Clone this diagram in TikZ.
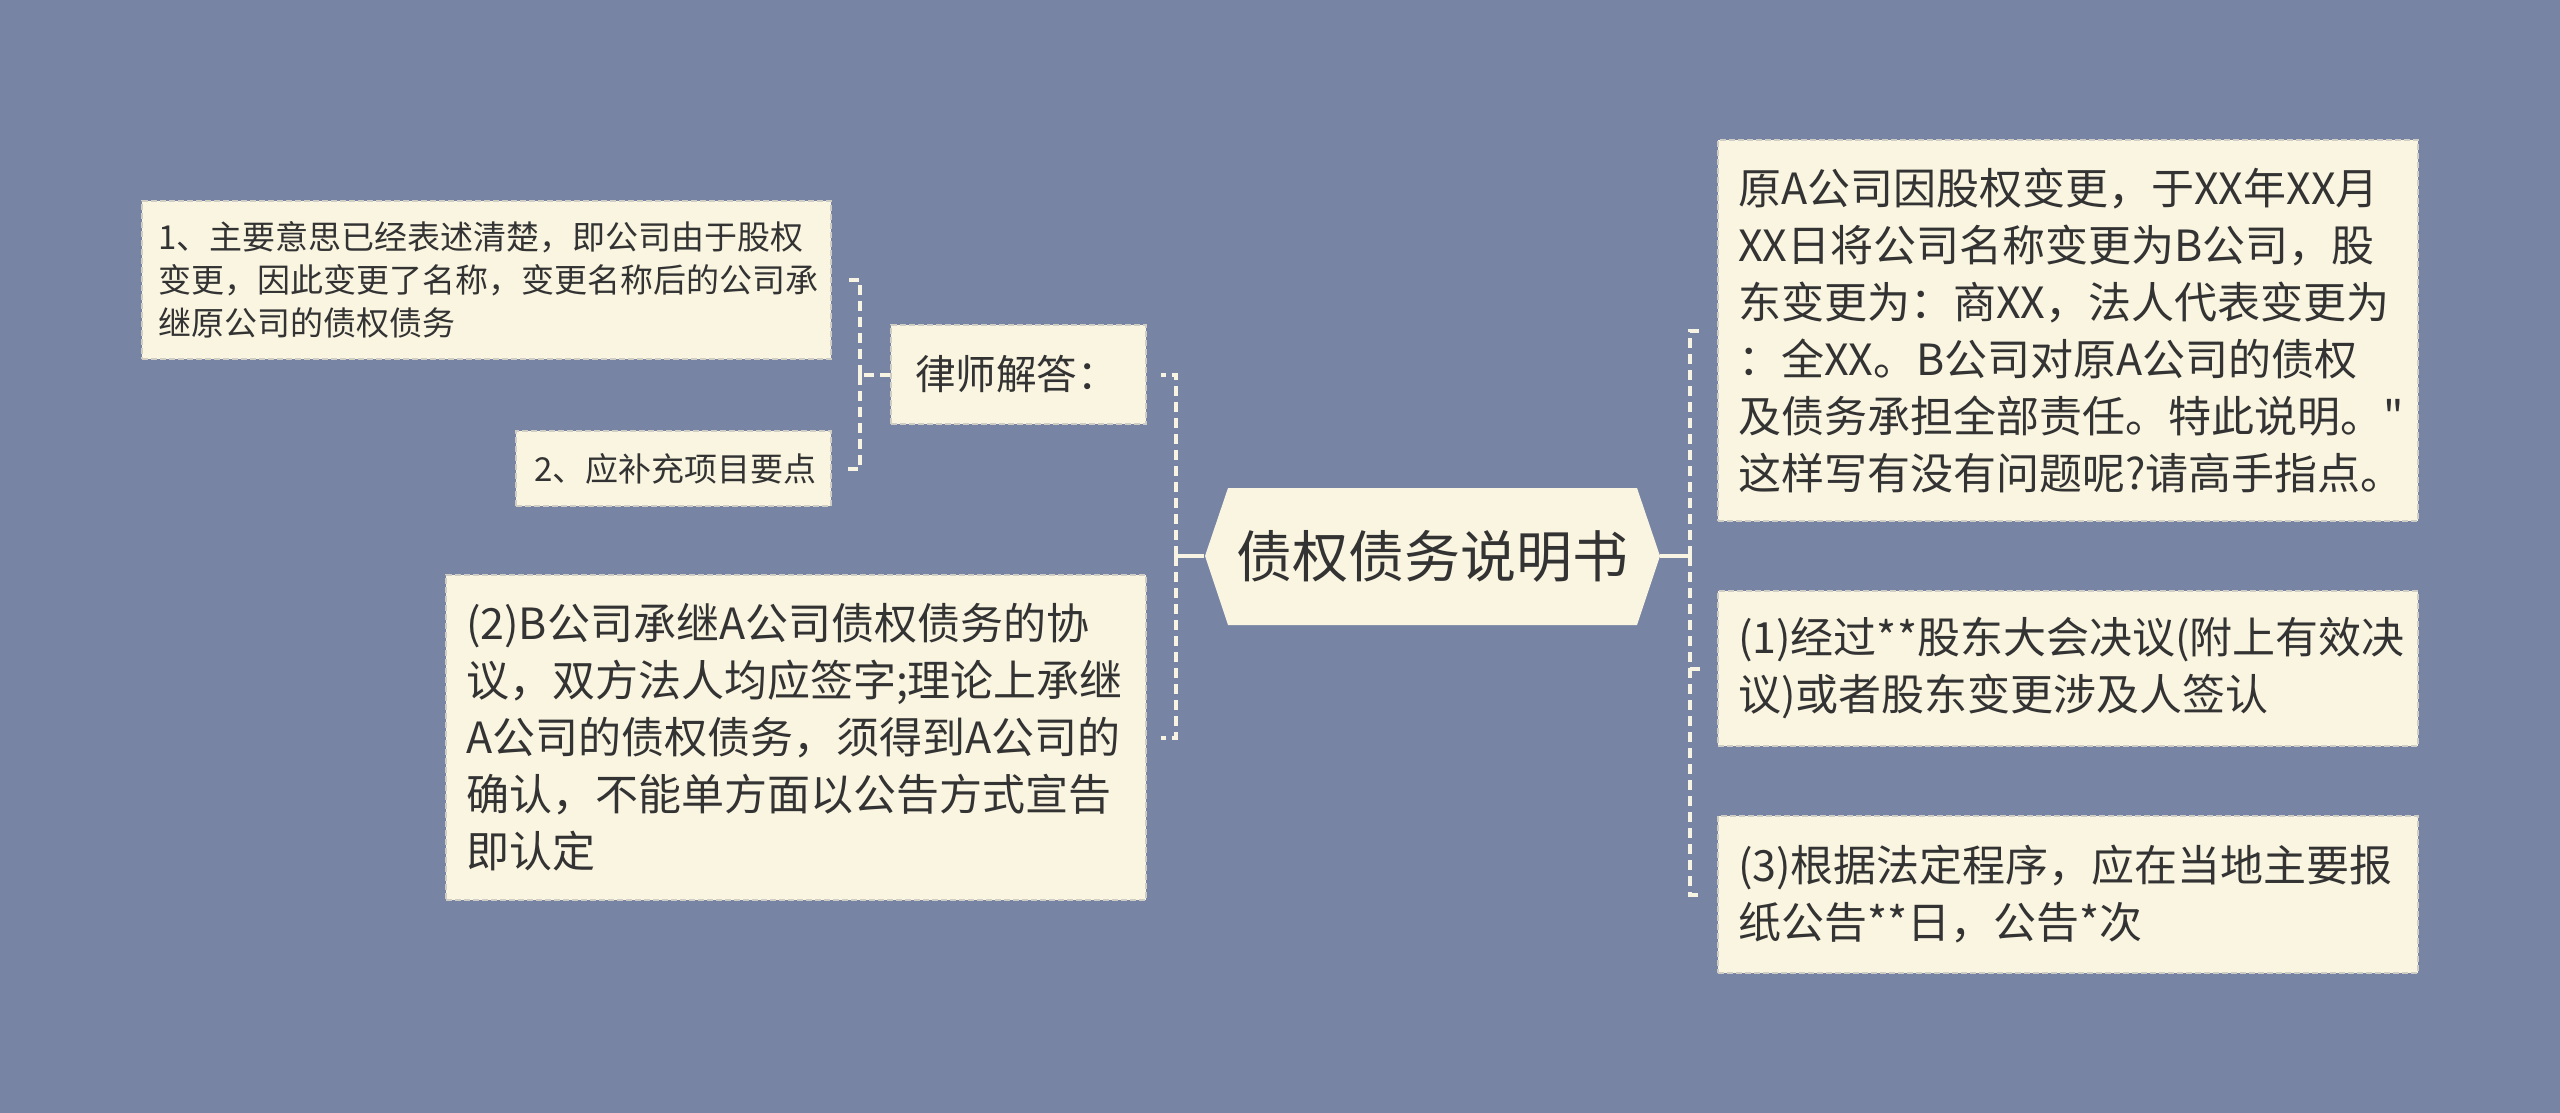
\documentclass[tikz,border=0pt]{standalone}
\usepackage{fontspec}
\setmainfont{Noto Sans CJK SC}[Ligatures=TeXOff]
\usetikzlibrary{calc}
\definecolor{bgcol}{HTML}{7884A3}
\definecolor{nodefill}{HTML}{FAF5E1}
\definecolor{bordercol}{HTML}{CFCDC4}
\definecolor{linecol}{HTML}{F7F4E4}
\definecolor{textcol}{HTML}{333333}
\tikzset{
  box/.style={draw=bordercol, fill=nodefill, dash pattern=on 3pt off 1.5pt, line width=0.8pt,
    text=textcol, align=left, inner ysep=0pt, anchor=center},
  smalltxt/.style={font=\fontsize{16.5}{21.5}\selectfont},
  bigtxt/.style={font=\fontsize{21.5}{28.5}\selectfont},
  conn/.style={draw=linecol, line width=2pt, dash pattern=on 5pt off 3pt},
  stem/.style={draw=linecol, line width=2pt},
}
\begin{document}
\begin{tikzpicture}[x=0.5pt,y=-0.5pt]
\useasboundingbox (0,0) rectangle (2560,1113);
\fill[bgcol] (0,0) rectangle (2560,1113);

% root hexagon
\coordinate (hc) at (1432,556);
\fill[nodefill] (1205,556) -- (1228,488) -- (1637,488) -- (1660,556) -- (1637,625) -- (1228,625) -- cycle;
\node[text=textcol, font=\fontsize{28}{34}\selectfont, minimum width=227.5pt, minimum height=68.5pt, inner sep=0pt] (root) at (hc) {债权债务说明书};

% left side
\node[box, font=\fontsize{20.3}{26}\selectfont, text width=103.5pt, minimum height=49.5pt, inner xsep=12pt] (lawyer) at (1018.5,374.5) {律师解答：};
\node[box, smalltxt, text width=328.5pt, inner xsep=8pt, minimum height=79pt] (n1) at (486.5,280) {1、主要意思已经表述清楚，即公司由于股权\\变更，因此变更了名称，变更名称后的公司承\\继原公司的债权债务};
\node[box, smalltxt, text width=139.5pt, minimum height=37.5pt, inner xsep=9pt] (n2) at (673.5,468.5) {2、应补充项目要点};
\node[box, bigtxt, text width=330pt, inner xsep=10pt, minimum height=162.5pt] (p2) at (796,737.5) {(2)B公司承继A公司债权债务的协\\议，双方法人均应签字;理论上承继\\A公司的债权债务，须得到A公司的\\确认，不能单方面以公告方式宣告\\即认定};

% right side
\node[box, bigtxt, text width=330pt, inner xsep=10pt, minimum height=190.5pt] (r0) at (2068,330.5) {原A公司因股权变更，于XX年XX月\\XX日将公司名称变更为B公司，股\\东变更为：商XX，法人代表变更为\\：全XX。B公司对原A公司的债权\\及债务承担全部责任。特此说明。"\\这样写有没有问题呢?请高手指点。};
\node[box, bigtxt, text width=330pt, inner xsep=10pt, minimum height=77.5pt] (r1) at (2068,668.5) {(1)经过**股东大会决议(附上有效决\\议)或者股东变更涉及人签认};
\node[box, bigtxt, text width=330pt, inner xsep=10pt, minimum height=78.5pt] (r3) at (2068,894.5) {(3)根据法定程序，应在当地主要报\\纸公告**日，公告*次};

% connectors
\coordinate (jL) at (1176,556);
\coordinate (jS) at (860,374.5);
\coordinate (jR) at (1690,556);
\draw[stem] (root.west) -- (jL);
\draw[conn] (jL) |- ($(lawyer.east)+(14,0)$);
\draw[conn] (jL) |- ($(p2.east)+(14,0)$);
\draw[conn] (lawyer.west) -- (jS);
\draw[conn] (jS) |- ($(n1.east)+(12,0)$);
\draw[conn] (jS) |- ($(n2.east)+(12,0)$);
\draw[stem] (root.east) -- (jR);
\draw[conn] (jR) |- ($(r0.west)+(-14,0)$);
\draw[conn] (jR) |- ($(r1.west)+(-14,0)$);
\draw[conn] (jR) |- ($(r3.west)+(-14,0)$);
\end{tikzpicture}
\end{document}
